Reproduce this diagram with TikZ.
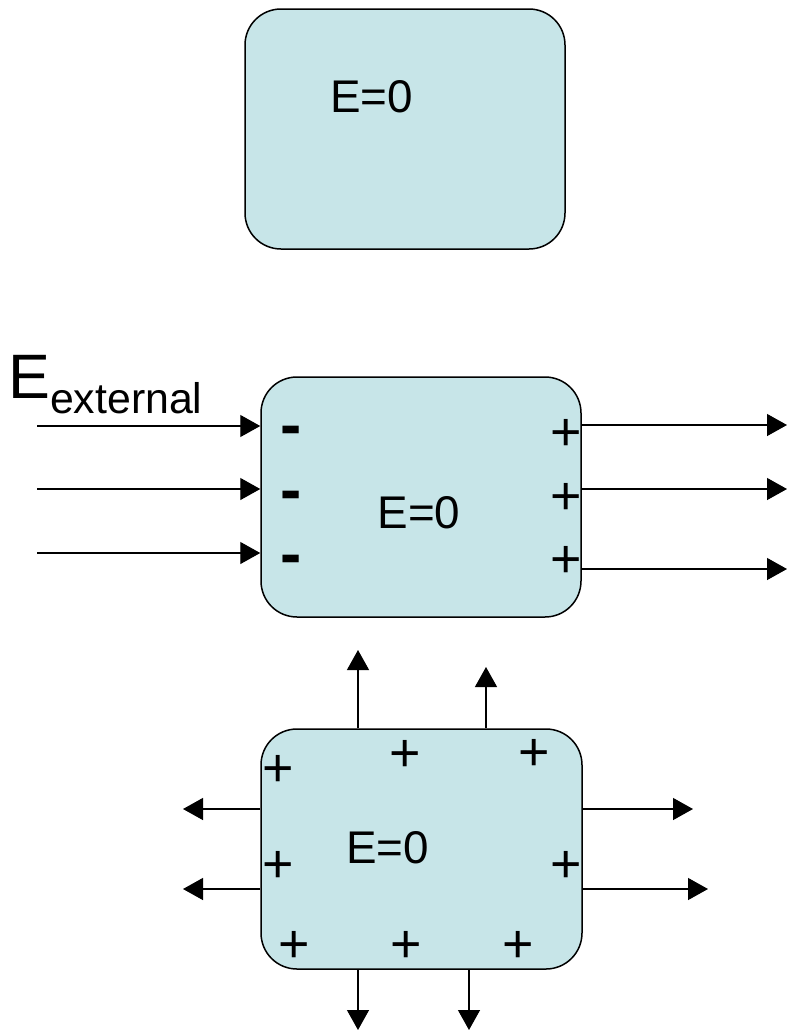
\documentclass[tikz,border=0pt]{standalone}
\usepackage{fontspec}
\setmainfont{Liberation Sans}
\usetikzlibrary{arrows.meta}
\definecolor{boxfill}{RGB}{199,229,232}
\tikzset{
  box/.style={draw=black, line width=1.5bp, fill=boxfill, rounded corners=36bp,
    minimum width=320bp, minimum height=240bp, inner sep=0pt},
  field/.style={draw=black, line width=1.3bp, -{Triangle[length=20bp,width=22bp]}},
  lbl/.style={inner sep=0pt, anchor=base, font=\fontsize{46}{46}\selectfont},
  chg/.style={inner sep=0pt, anchor=base, font=\fontsize{54}{54}\selectfont},
  neg/.style={inner sep=0pt, anchor=base, font=\fontsize{64}{64}\selectfont\bfseries},
}
\begin{document}
\begin{tikzpicture}[x=1bp,y=-1bp]
\useasboundingbox (0,0) rectangle (787,1031);

% ---------- box 1 ----------
\node[box] (b1) at (405,129) {};
\node[lbl] (t1) at (371.5,112) {E=0};

% ---------- box 2 ----------
\node[box] (b2) at (421,497) {};
\node[lbl] (t2) at (419,528) {E=0};
\node[inner sep=0pt, anchor=base west] (ext) at (8,398)
  {{\fontsize{63}{63}\selectfont E}\raisebox{-15bp}{\fontsize{43}{43}\selectfont external}};

\coordinate (i1) at (37,426);
\coordinate (i2) at (37,489);
\coordinate (i3) at (37,553);
\draw[field] (i1) -- (i1 -| b2.west);
\draw[field] (i2) -- (i2 -| b2.west);
\draw[field] (i3) -- (i3 -| b2.west);

\coordinate (o1) at (787,425);
\coordinate (o2) at (787,489);
\coordinate (o3) at (787,569);
\draw[field] (o1 -| b2.east) -- (o1);
\draw[field] (o2 -| b2.east) -- (o2);
\draw[field] (o3 -| b2.east) -- (o3);

\node[neg] (m1) at (291,446) {-};
\node[neg] (m2) at (291,511) {-};
\node[neg] (m3) at (291,575) {-};
\node[chg] (p1) at (566,450) {+};
\node[chg] (p2) at (566,514) {+};
\node[chg] (p3) at (566,577) {+};

% ---------- box 3 ----------
\node[box, minimum width=321bp] (b3) at (421.5,849) {};
\node[lbl] (t3) at (387.5,863) {E=0};

\coordinate (u1) at (358,650);
\coordinate (u2) at (486,667);
\draw[field] (u1 |- b3.north) -- (u1);
\draw[field] (u2 |- b3.north) -- (u2);

\coordinate (d1) at (358,1030);
\coordinate (d2) at (469,1030);
\draw[field] (d1 |- b3.south) -- (d1);
\draw[field] (d2 |- b3.south) -- (d2);

\coordinate (l1) at (183,809);
\coordinate (l2) at (183,889);
\draw[field] (l1 -| b3.west) -- (l1);
\draw[field] (l2 -| b3.west) -- (l2);

\coordinate (r1) at (693,809);
\coordinate (r2) at (708,889);
\draw[field] (r1 -| b3.east) -- (r1);
\draw[field] (r2 -| b3.east) -- (r2);

\node[chg] (q1) at (278,786) {+};
\node[chg] (q2) at (405,771) {+};
\node[chg] (q3) at (534,770) {+};
\node[chg] (q4) at (278,882) {+};
\node[chg] (q5) at (566,882) {+};
\node[chg] (q6) at (294,962) {+};
\node[chg] (q7) at (406,962) {+};
\node[chg] (q8) at (518,962) {+};
\end{tikzpicture}
\end{document}
